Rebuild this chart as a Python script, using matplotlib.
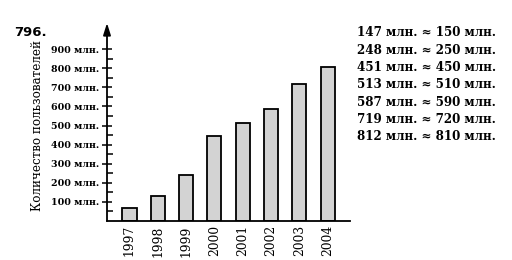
import matplotlib
matplotlib.use("Agg")
import matplotlib.pyplot as plt
from matplotlib.ticker import FuncFormatter

years = ["1997", "1998", "1999", "2000", "2001", "2002", "2003", "2004"]
users = [68, 130, 240, 445, 512, 587, 720, 806]  # millions
rounding_lines = [
    "147 млн. ≈ 150 млн.",
    "248 млн. ≈ 250 млн.",
    "451 млн. ≈ 450 млн.",
    "513 млн. ≈ 510 млн.",
    "587 млн. ≈ 590 млн.",
    "719 млн. ≈ 720 млн.",
    "812 млн. ≈ 810 млн.",
]

W, H = 512, 260
fig = plt.figure(figsize=(W / 100, H / 100), dpi=100)

# axes box in pixels: left 107, right 350, baseline 221, arrow tip 23
ax = fig.add_axes([107 / W, (H - 221) / H, (350 - 107) / W, (221 - 23) / H])
ax.set_xlim(-0.795, 7.79)
ax.set_ylim(0, 1037)

x = range(len(years))
ax.bar(x, users, width=0.5, color="#d3d3d3", edgecolor="black", linewidth=1.3)

for s in ["top", "right", "left"]:
    ax.spines[s].set_visible(False)
ax.spines["bottom"].set_linewidth(1.3)
ax.annotate("", xy=(0, 1.0), xytext=(0, 0), xycoords="axes fraction",
            arrowprops=dict(arrowstyle="-|>,head_length=0.7,head_width=0.22",
                            color="black", lw=1.3, shrinkA=0, shrinkB=0))

ax.set_yticks(list(range(100, 1000, 100)))
ax.set_yticks(list(range(50, 950, 100)), minor=True)
ax.yaxis.set_major_formatter(FuncFormatter(lambda v, p: f"{int(v)} млн."))
ax.tick_params(axis="y", which="major", direction="inout", length=7, width=1.1,
               pad=2, labelsize=6.8)
ax.tick_params(axis="y", which="minor", direction="in", length=4, width=1.1)
for lbl in ax.get_yticklabels():
    lbl.set_fontfamily("DejaVu Serif")
    lbl.set_fontweight("bold")

ax.set_xticks(list(x))
ax.set_xticklabels(years, rotation=90, family="DejaVu Serif", fontsize=8.8)
ax.tick_params(axis="x", length=0, pad=3)

fig.text(38 / W, 1 - 125 / H, "Количество пользователей", rotation=90,
         ha="center", va="center", family="DejaVu Serif", fontsize=8.6)
fig.text(14 / W, 1 - 32 / H, "796.", ha="left", va="center",
         family="DejaVu Sans", fontweight="bold", fontsize=9.5)

for i, line in enumerate(rounding_lines):
    fig.text(357 / W, 1 - (33 + 17.3 * i) / H, line, ha="left", va="center",
             family="DejaVu Serif", fontweight="bold", fontsize=8.6)

fig.savefig("out.png", dpi=100)
